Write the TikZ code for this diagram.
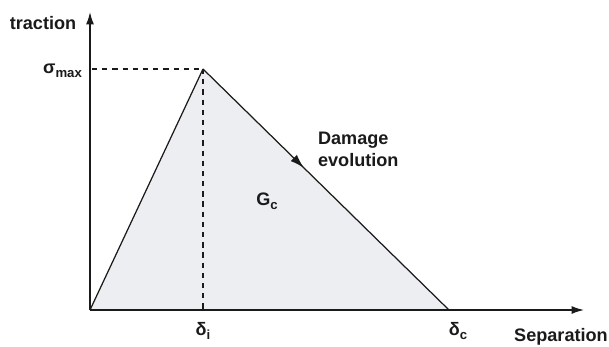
\documentclass[tikz,border=0pt]{standalone}
\usepackage{fontspec}
\setmainfont{Liberation Sans}
\usetikzlibrary{arrows.meta,decorations.markings}
\definecolor{ink}{HTML}{1A1A1A}
\definecolor{pale}{HTML}{ECEEF1}
\newcommand{\lowsub}[1]{\raisebox{-0.45ex}{\fontsize{7.5}{8}\selectfont #1}}

\begin{document}
\begin{tikzpicture}[x=0.02cm,y=0.02cm,font=\bfseries\fontsize{10.3}{12.5}\selectfont,
  axis/.style={draw=ink,line width=0.8pt,-{Latex[length=7pt,width=4.5pt]}},
  law/.style={draw=ink,line width=0.7pt},
  guide/.style={draw=ink,line width=0.6pt,dash pattern=on 3pt off 2.8pt},
  lbl/.style={text=ink,inner sep=1pt}]
\useasboundingbox (0,0) rectangle (609,346);
% key points
\coordinate (o) at (90,36);
\coordinate (ytop) at (90,334);
\coordinate (xend) at (584,36);
\coordinate (peak) at (203,277);
\coordinate (smax) at (92,277);
\coordinate (di) at (203,36);
\coordinate (dc) at (449,36);
% energy area
\fill[pale] (o) -- (peak) -- (dc) -- cycle;
\draw[guide] (smax) -- (peak);
\draw[guide] (peak) -- (di);
\draw[law] (o) -- (peak);
\draw[law,postaction={decorate},decoration={markings,mark=at position 0.41 with {\arrow{Latex[length=8pt,width=5pt]}}}] (peak) -- (dc);
\draw[axis] (o) -- (ytop);
\draw[axis] (o) -- (xend);
% labels
\node[lbl] (ttrac) at (43,323) {traction};
\node[lbl,anchor=east] (tsig) at (84,275) {σ\lowsub{max}};
\node[lbl,align=left,anchor=west] (tdam) at (316,197) {Damage\\evolution};
\node[lbl] (tgc) at (267,145) {G\lowsub{c}};
\node[lbl] (tdi) at (203,15) {δ\lowsub{i}};
\node[lbl] (tdc) at (458,15) {δ\lowsub{c}};
\node[lbl] (tsep) at (561,9) {Separation};
\end{tikzpicture}
\end{document}
